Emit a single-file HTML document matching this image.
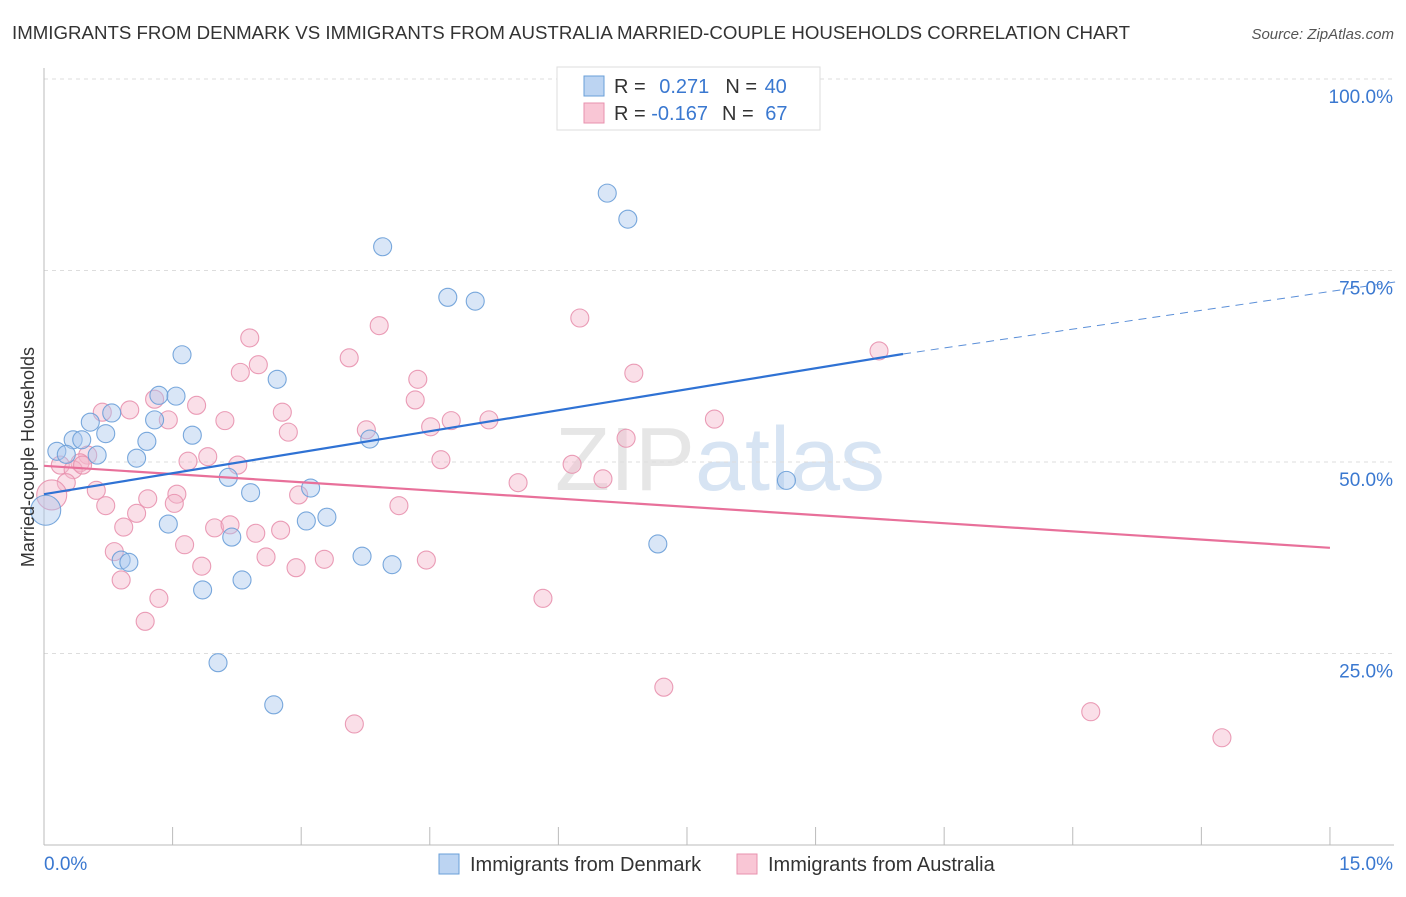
<!DOCTYPE html>
<html><head><meta charset="utf-8"><style>
body{margin:0;background:#fff;font-family:"Liberation Sans",sans-serif}
svg text{font-family:"Liberation Sans",sans-serif}
</style></head><body>
<svg id="chart" width="1406" height="892" xmlns="http://www.w3.org/2000/svg">
<text x="12" y="39" font-size="18" fill="#333" textLength="1118" lengthAdjust="spacingAndGlyphs">IMMIGRANTS FROM DENMARK VS IMMIGRANTS FROM AUSTRALIA MARRIED-COUPLE HOUSEHOLDS CORRELATION CHART</text>
<text x="1394" y="39" font-size="15" fill="#555" text-anchor="end" font-style="italic">Source: ZipAtlas.com</text>
<text x="720" y="490" font-size="90" fill="#e6e6e6" text-anchor="middle" font-family="Liberation Serif">ZIP<tspan fill="#d7e4f3" font-family="Liberation Sans">atlas</tspan></text>
<g id="grid"></g><g id="axes"></g><g id="marks"></g>
<text transform="translate(34,457) rotate(-90)" font-size="18" fill="#333" text-anchor="middle">Married-couple Households</text>
<g>
<rect x="557" y="67" width="263" height="63" fill="#fff" stroke="#ddd"/>
<rect x="584" y="76" width="20" height="20" fill="#bcd4f2" stroke="#6a9fd8"/>
<rect x="584" y="103" width="20" height="20" fill="#f9c6d5" stroke="#e891ae"/>
<text x="614" y="93" font-size="20" fill="#333">R = <tspan fill="#3a78d0" dx="8">0.271</tspan><tspan dx="16">N = </tspan><tspan fill="#3a78d0" dx="2">40</tspan></text>
<text x="614" y="120" font-size="20" fill="#333">R = <tspan fill="#3a78d0">-0.167</tspan><tspan dx="14">N = </tspan><tspan fill="#3a78d0" dx="6">67</tspan></text>
</g>
<g>
<rect x="439" y="854" width="20" height="20" fill="#bcd4f2" stroke="#6a9fd8"/>
<text x="470" y="871" font-size="20" fill="#333">Immigrants from Denmark</text>
<rect x="737" y="854" width="20" height="20" fill="#f9c6d5" stroke="#e891ae"/>
<text x="768" y="871" font-size="20" fill="#333">Immigrants from Australia</text>
</g>
</svg>
<script>
const xTicks=[0,1.5,3,4.5,6,7.5,9,10.5,12,13.5,15];
const yTicks=[25,50,75,100];
const yTickLabels=["25.0%","50.0%","75.0%","100.0%"];
const denmarkX=[6.57,6.81,3.95,4.71,5.03,1.61,2.72,1.34,1.54,0.79,0.54,1.29,0.72,1.73,0.34,0.44,1.20,3.80,0.15,0.26,0.62,1.08,2.15,3.11,2.41,8.66,3.30,3.06,1.45,2.19,7.16,3.71,0.90,0.99,4.06,2.31,1.85,2.03,2.68,0.02];
const denmarkY=[85.1,81.7,78.1,71.5,71.0,64.0,60.8,58.7,58.6,56.4,55.2,55.5,53.7,53.5,52.9,52.9,52.7,53.0,51.4,51.0,50.9,50.5,48.0,46.6,46.0,47.6,42.8,42.3,41.9,40.2,39.3,37.7,37.2,36.9,36.6,34.6,33.3,23.8,18.3,43.7];
const australiaX=[9.74,6.25,2.40,3.91,3.56,2.50,6.88,2.29,4.36,4.33,1.29,1.78,1.00,0.68,2.78,7.82,1.45,2.11,4.75,5.19,4.51,2.85,3.76,6.79,0.51,1.91,1.68,2.26,4.63,0.42,0.19,0.34,6.16,0.26,6.52,5.53,0.61,1.55,2.97,1.21,1.52,0.72,4.14,1.08,0.93,1.99,2.17,2.47,2.76,1.64,0.82,2.59,3.27,1.84,2.94,4.46,0.90,1.34,5.82,1.18,7.23,12.21,13.74,3.62,0.09,0.45];
const australiaY=[64.5,68.8,66.2,67.8,63.6,62.7,61.6,61.7,60.8,58.1,58.2,57.4,56.8,56.5,56.5,55.6,55.5,55.4,55.4,55.5,54.6,53.9,54.2,53.1,50.9,50.7,50.1,49.6,50.3,49.9,49.6,49.0,49.7,47.3,47.8,47.3,46.3,45.8,45.7,45.2,44.6,44.3,44.3,43.3,41.5,41.4,41.8,40.7,41.1,39.2,38.3,37.6,37.3,36.4,36.2,37.2,34.6,32.2,32.2,29.2,20.6,17.4,14.0,15.8,45.7,49.6];
const denmarkTrend=[[0,45.8],[10.02,64.1]];
const denmarkTrendExt=[[10.02,64.1],[15.76,73.5]];
const australiaTrend=[[0,49.5],[15,38.8]];
const NS="http://www.w3.org/2000/svg";
const X=v=>44+v*85.73, Y=v=>845-v*7.66;
function mk(tag,attrs,parent){const e=document.createElementNS(NS,tag);for(const k in attrs)e.setAttribute(k,attrs[k]);parent.appendChild(e);return e;}
const grid=document.getElementById('grid'),axes=document.getElementById('axes'),marks=document.getElementById('marks');
yTicks.forEach((t,i)=>{
 const l=mk('line',{x1:44,x2:1394,y1:Y(t),y2:Y(t),stroke:'#ddd','stroke-dasharray':'4,4'},grid);
 
 
 const tx=mk('text',{x:1393,y:Y(t)+24,'font-size':19,fill:'#3a78d0','text-anchor':'end'},axes);
 tx.textContent=yTickLabels[i];
 
 
});
const xa=mk('line',{x1:44,x2:1394,y1:845,y2:845,stroke:'#bbb'},axes);


const ya=mk('line',{x1:44,x2:44,y1:68,y2:845,stroke:'#bbb'},axes);


xTicks.forEach(t=>{const l=mk('line',{x1:X(t),x2:X(t),y1:827,y2:845,stroke:'#bbb'},axes);
 
 });
const x0=mk('text',{x:44,y:870,'font-size':19,fill:'#3a78d0'},axes);x0.textContent='0.0%';


const x1=mk('text',{x:1393,y:870,'font-size':19,fill:'#3a78d0','text-anchor':'end'},axes);x1.textContent='15.0%';


function pts(xs,ys,fill,stroke,name){xs.forEach((x,i)=>{const big=x<0.1;
 const c=mk('circle',{cx:X(x),cy:Y(ys[i]),r:big?15:9,fill:fill,'fill-opacity':0.45,stroke:stroke,'stroke-width':1.1,'stroke-opacity':0.9},marks);
 
 });}
pts(australiaX,australiaY,'#f5b8cb','#e891ae','australia-point');
pts(denmarkX,denmarkY,'#aac8ee','#6a9fd8','denmark-point');
function line(p,color,dash,name){const l=mk('line',{x1:X(p[0][0]),y1:Y(p[0][1]),x2:X(p[1][0]),y2:Y(p[1][1]),stroke:color,'stroke-width':dash?1:2.2},marks);
 if(dash)l.setAttribute('stroke-dasharray','8,6');
 
 }
line(australiaTrend,'#e8709a',false,'australia-trend-line');
line(denmarkTrend,'#2f72d4',false,'denmark-trend-line');
line(denmarkTrendExt,'#5b8fd8',true,'denmark-trend-extension');
</script>
</body></html>
